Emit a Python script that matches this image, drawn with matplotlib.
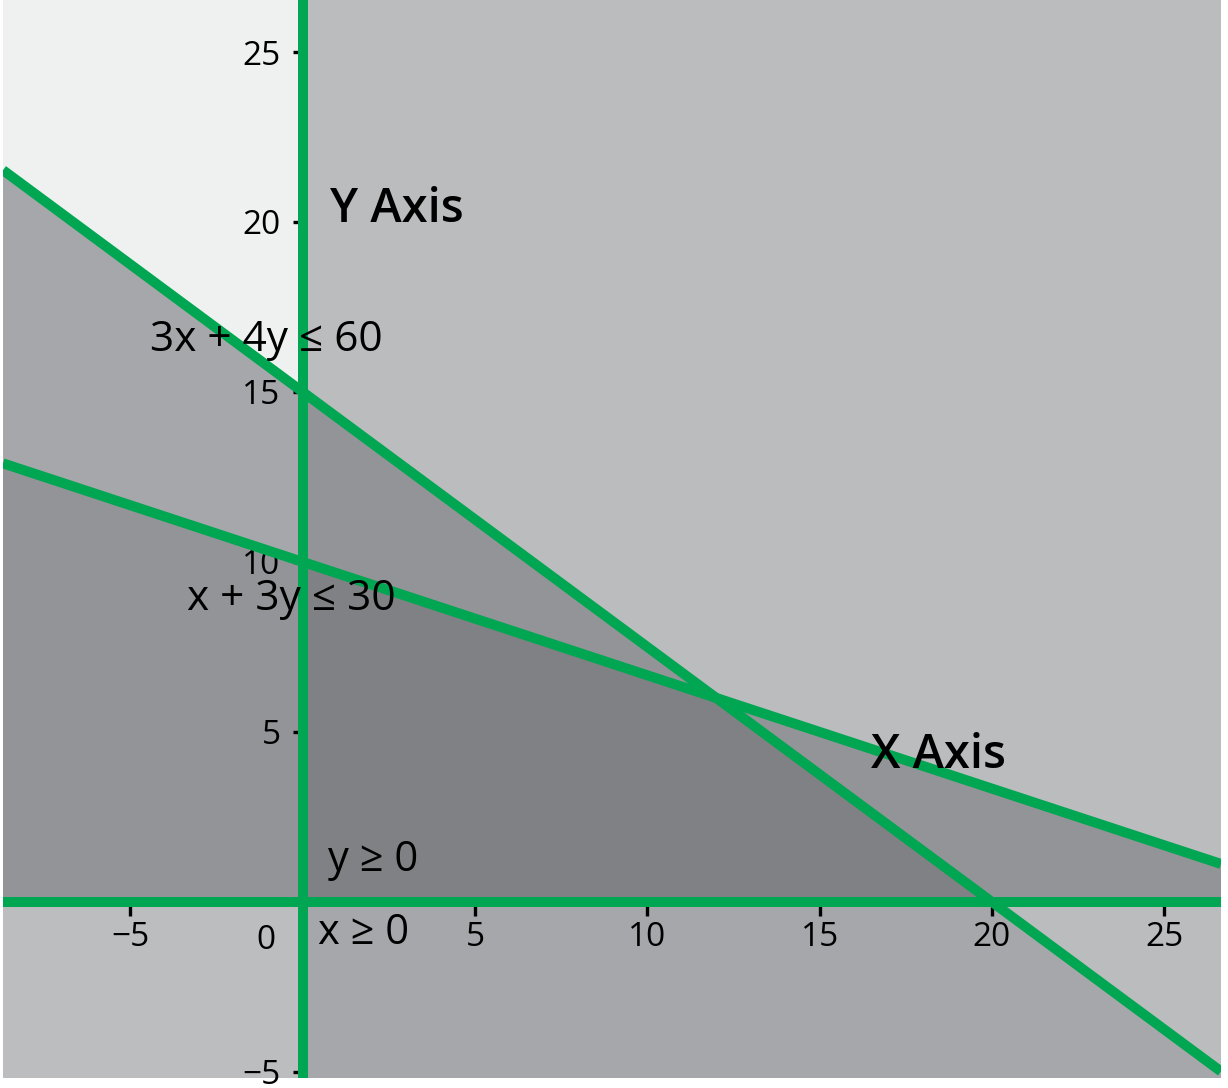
import numpy as np
import matplotlib
matplotlib.use("Agg")
import matplotlib.pyplot as plt
from matplotlib.colors import to_rgb

plt.rcParams['font.family'] = ['Open Sans', 'DejaVu Sans']

# === données ===
# contraintes a*x + b*y <= c  (ou >= selon le sens)
constraints = [
    # (a, b, c, sens)
    (1, 0, 0, '>='),    # x >= 0
    (0, 1, 0, '>='),    # y >= 0
    (3, 4, 60, '<='),   # 3x + 4y <= 60
    (1, 3, 30, '<='),   # x + 3y <= 30
]
xlim = (-8.7, 26.65)
ylim = (-5.18, 26.53)
xticks = [-5, 5, 10, 15, 20, 25]
yticks = [-5, 5, 10, 15, 20, 25]

# couleur de chaque région selon les contraintes satisfaites (A, B, C, D)
region_colors = {
    (0, 1, 0, 0): '#eff1f0',
    (0, 1, 1, 0): '#a6a7aa',
    (0, 1, 1, 1): '#939498',
    (0, 0, 1, 1): '#bcbdbf',
    (1, 1, 0, 0): '#bbbcbe',
    (1, 1, 1, 0): '#939498',
    (1, 1, 0, 1): '#939498',
    (1, 1, 1, 1): '#808184',
    (1, 0, 1, 1): '#a6a7aa',
    (1, 0, 0, 1): '#bbbcbe',
}

labels = [
    ("Y Axis", 0.78, 20.0, 34, 'semibold'),
    ("3x + 4y ≤ 60", -4.43, 16.2, 30.5, 'normal'),
    ("x + 3y ≤ 30", -3.36, 8.6, 30.5, 'normal'),
    ("X Axis", 16.49, 3.95, 34, 'semibold'),
    ("y ≥ 0", 0.72, 0.9, 30, 'normal'),
    ("x ≥ 0", 0.43, -1.25, 30, 'normal'),
    ("0", -1.35, -1.38, 24, 'normal'),
]

green = '#00a651'

fig = plt.figure(figsize=(12.28, 10.88), dpi=100)
ax = fig.add_axes([3 / 1228, 1 - 1078 / 1088, (1221 - 3) / 1228, 1078 / 1088])
ax.set_xlim(xlim)
ax.set_ylim(ylim)

# === régions ombrées ===
nx, ny = 1600, 1400
xs = np.linspace(xlim[0], xlim[1], nx)
ys = np.linspace(ylim[0], ylim[1], ny)
X, Y = np.meshgrid(xs, ys)
masks = []
for a, b, c, s in constraints:
    v = a * X + b * Y
    masks.append((v >= c) if s == '>=' else (v <= c))
img = np.ones((ny, nx, 3))
for key, col in region_colors.items():
    m = np.ones_like(X, dtype=bool)
    for k, mk in zip(key, masks):
        m &= (mk if k else ~mk)
    img[m] = to_rgb(col)
ax.imshow(img, extent=(xlim[0], xlim[1], ylim[0], ylim[1]), origin='lower',
          interpolation='nearest', aspect='auto', zorder=0)

# === droites frontières ===
xl = np.array(xlim)
for a, b, c, s in constraints:
    if b == 0:
        ax.plot([c / a, c / a], ylim, color=green, lw=7.2, zorder=2,
                solid_capstyle='butt')
    else:
        ax.plot(xl, (c - a * xl) / b, color=green, lw=7.2, zorder=2,
                solid_capstyle='butt')

# === axes / graduations ===
for sp in ['top', 'right']:
    ax.spines[sp].set_visible(False)
ax.spines['left'].set_position(('data', 0))
ax.spines['bottom'].set_position(('data', 0))
ax.spines['left'].set_color('none')
ax.spines['bottom'].set_color('none')

ax.set_xticks(xticks)
ax.set_xticklabels([str(t).replace('-', '−') for t in xticks])
ax.set_yticks(yticks)
ax.set_yticklabels([str(t).replace('-', '−') for t in yticks])
ax.tick_params(axis='x', direction='out', length=10, width=2.4, pad=4,
               labelsize=24, color='black')
ax.tick_params(axis='y', direction='out', length=7, width=2.4, pad=9,
               labelsize=24, color='black')

for txt, x, y, fs, fw in labels:
    ax.text(x, y, txt, fontsize=fs, fontweight=fw, ha='left', va='baseline',
            color='black', zorder=3)

fig.savefig('out.png', dpi=100)
